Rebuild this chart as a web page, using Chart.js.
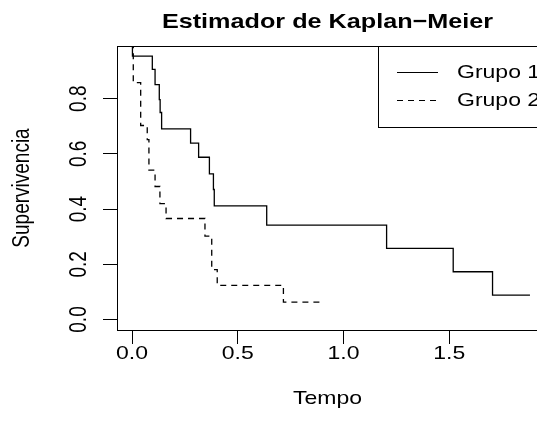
<!DOCTYPE html>
<html>
<head>
<meta charset="utf-8">
<script src="https://cdn.jsdelivr.net/npm/chart.js@4.4.1/dist/chart.umd.min.js"></script>
<style>
  html, body { margin: 0; padding: 0; overflow: hidden; background: #fff; }
  canvas { display: block; }
</style>
</head>
<body>
<canvas id="km" width="580" height="439"></canvas>
<script>
// Kaplan-Meier steps
const grupo1Tempo = [0, 0.002, 0.096, 0.109, 0.129, 0.133, 0.140, 0.277, 0.315, 0.366, 0.385, 0.389, 0.637, 1.204, 1.519, 1.705, 1.882];
const grupo1Surv  = [1, 0.954, 0.906, 0.851, 0.797, 0.750, 0.691, 0.639, 0.588, 0.528, 0.471, 0.412, 0.342, 0.258, 0.173, 0.088, 0.088];
const grupo2Tempo = [0, 0.006, 0.041, 0.072, 0.080, 0.109, 0.132, 0.161, 0.345, 0.377, 0.403, 0.716, 0.902];
const grupo2Surv  = [1, 0.858, 0.703, 0.652, 0.541, 0.482, 0.420, 0.366, 0.302, 0.181, 0.124, 0.063, 0.063];

const xTicks = [0, 0.5, 1, 1.5];
const xTickLabels = ["0.0", "0.5", "1.0", "1.5"];
const yTicks = [0, 0.2, 0.4, 0.6, 0.8];
const yTickLabels = ["0.0", "0.2", "0.4", "0.6", "0.8"];

const titulo = "Estimador de Kaplan\u2212Meier";
const xTitulo = "Tempo";
const yTitulo = "Supervivencia";
const grupos = ["Grupo 1", "Grupo 2"];

const FONT = "'Liberation Sans', Arial, sans-serif";
// the reference text is a bit wider than it is tall
const TXT_H = 23, TXT_V = 19;
const TIT_H = 25.2, TIT_V = 21;

function toPoints(xs, ys) {
    return xs.map((x, i) => ({ x: x, y: ys[i] }));
}

function stretchText(ctx, str, x, y, h, v, rotated) {
    ctx.save();
    ctx.translate(x, y);
    if (rotated) {
        ctx.rotate(-Math.PI / 2);
        ctx.scale(1, h / v);
    } else {
        ctx.scale(h / v, 1);
    }
    ctx.fillText(str, 0, 0);
    ctx.restore();
}

// draws title, tick labels, axis titles, top frame line and the legend box
const rDecor = {
    id: "rDecor",
    afterDraw(chart) {
        const ctx = chart.ctx;
        const area = chart.chartArea;
        const xs = chart.scales.x;
        const ys = chart.scales.y;
        ctx.save();
        ctx.fillStyle = "#000";
        ctx.strokeStyle = "#000";

        // top frame line
        ctx.lineWidth = 1;
        ctx.beginPath();
        ctx.moveTo(area.left, Math.round(area.top) + 0.5);
        ctx.lineTo(area.right, Math.round(area.top) + 0.5);
        ctx.stroke();

        // title
        ctx.font = "bold " + TIT_V + "px " + FONT;
        ctx.textAlign = "center";
        ctx.textBaseline = "alphabetic";
        stretchText(ctx, titulo, (area.left + area.right) / 2, 28, TIT_H, TIT_V, false);

        // x tick labels
        ctx.font = TXT_V + "px " + FONT;
        xTicks.forEach((v, i) => {
            stretchText(ctx, xTickLabels[i], xs.getPixelForValue(v), 359, TXT_H, TXT_V, false);
        });
        stretchText(ctx, xTitulo, (area.left + area.right) / 2, 404, TXT_H, TXT_V, false);

        // y tick labels, rotated like R
        yTicks.forEach((v, i) => {
            stretchText(ctx, yTickLabels[i], 86, ys.getPixelForValue(v), TXT_H, TXT_V, true);
        });
        stretchText(ctx, yTitulo, 29, (area.top + area.bottom) / 2, TXT_H, TXT_V, true);

        // legend
        ctx.fillStyle = "#fff";
        ctx.fillRect(378.5, area.top + 0.5, area.right - 378.5, 81);
        ctx.strokeRect(378.5, area.top + 0.5, area.right - 378.5, 81);
        ctx.fillStyle = "#000";
        ctx.textAlign = "left";
        ctx.textBaseline = "middle";
        const rows = [72, 100];
        rows.forEach((y, i) => {
            ctx.beginPath();
            ctx.setLineDash(i === 0 ? [] : [6, 5]);
            ctx.moveTo(397, y + 0.5);
            ctx.lineTo(438, y + 0.5);
            ctx.stroke();
            ctx.setLineDash([]);
            stretchText(ctx, grupos[i], 457, y + 1, TXT_H, TXT_V, false);
        });
        ctx.restore();
    }
};

const chart = new Chart(document.getElementById("km"), {
    type: "line",
    data: {
        datasets: [
            {
                label: grupos[0],
                data: toPoints(grupo1Tempo, grupo1Surv),
                stepped: "before",
                borderColor: "#000",
                borderWidth: 1.3,
                pointRadius: 0,
                fill: false
            },
            {
                label: grupos[1],
                data: toPoints(grupo2Tempo, grupo2Surv),
                stepped: "before",
                borderColor: "#000",
                borderWidth: 1.3,
                borderDash: [6, 5],
                pointRadius: 0,
                fill: false
            }
        ]
    },
    options: {
        responsive: false,
        animation: false,
        layout: { padding: { top: 46, right: 42, left: 0, bottom: 0 } },
        plugins: {
            legend: { display: false },
            title: { display: false },
            tooltip: { enabled: false }
        },
        scales: {
            x: {
                type: "linear",
                min: -0.071,
                max: 1.92,
                afterBuildTicks: (scale) => { scale.ticks = xTicks.map(v => ({ value: v })); },
                afterFit: (scale) => { scale.height = 109; },
                ticks: { display: false },
                grid: { drawOnChartArea: false, drawTicks: true, tickLength: 14, color: "#000", lineWidth: 1 },
                border: { display: true, color: "#000", width: 1 }
            },
            y: {
                type: "linear",
                min: -0.038,
                max: 0.991,
                afterBuildTicks: (scale) => { scale.ticks = yTicks.map(v => ({ value: v })); },
                afterFit: (scale) => { scale.width = 117; },
                ticks: { display: false },
                grid: { drawOnChartArea: false, drawTicks: true, tickLength: 14, color: "#000", lineWidth: 1 },
                border: { display: true, color: "#000", width: 1 }
            }
        }
    },
    plugins: [rDecor]
});
</script>
</body>
</html>
